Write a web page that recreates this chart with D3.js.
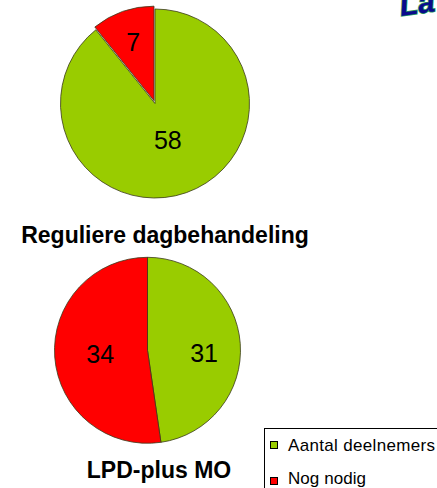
<!DOCTYPE html>
<html>
<head>
<meta charset="utf-8">
<script src="https://cdn.jsdelivr.net/npm/d3@7"></script>
<style>
  html, body { margin: 0; padding: 0; background: #fff; }
  svg { display: block; }
</style>
</head>
<body>
<svg id="chart" width="437" height="488"></svg>
<script>
// ---- data ----
const categories = ["Aantal deelnemers", "Nog nodig"];
const pieTitles = ["Reguliere dagbehandeling", "LPD-plus MO"];
const regulierValues = [58, 7];
const lpdValues = [31, 34];
const colors = ["#99CC00", "#FF0000"];

const svg = d3.select("#chart");
const font = "'Liberation Sans', Arial, sans-serif";

// decorative WordArt fragment at top-right (cut off by the top edge as in the original)
svg.append("text")
  .attr("transform", "translate(401,16) rotate(-8)")
  .attr("font-family", font)
  .attr("font-weight", "bold")
  .attr("font-style", "italic")
  .attr("font-size", 30)
  .attr("fill", "#0a0a8c")
  .attr("stroke", "#2e9e5a")
  .attr("stroke-width", 1.5)
  .attr("paint-order", "stroke")
  .text("La");

const pies = [
  { values: regulierValues, cx: 155, cy: 103.5, r: 94.5, labelR: [0.41, 0.66], labelDy: [0, 0], explode: [0, 3],
    title: pieTitles[0], tx: 165, ty: 243 },
  { values: lpdValues, cx: 147.5, cy: 350.3, r: 93, labelR: [0.61, 0.51], labelDy: [7, 0], explode: [0, 0],
    title: pieTitles[1], tx: 159, ty: 478 }
];

const pieGen = d3.pie().sort(null).value(d => d);

pies.forEach(p => {
  const g = svg.append("g").attr("transform", `translate(${p.cx},${p.cy})`);
  const arcs = pieGen(p.values);
  const arc = d3.arc().innerRadius(0).outerRadius(p.r);
  arcs.forEach((a, i) => {
    const mid = (a.startAngle + a.endAngle) / 2;
    const ex = Math.sin(mid) * p.explode[i], ey = -Math.cos(mid) * p.explode[i];
    g.append("path")
      .attr("d", arc(a))
      .attr("transform", `translate(${ex},${ey})`)
      .attr("fill", colors[i])
      .attr("stroke", "#3a3a1a")
      .attr("stroke-width", 0.8);
  });
  arcs.forEach((a, i) => {
    const lr = p.r * p.labelR[i];
    const la = d3.arc().innerRadius(lr).outerRadius(lr);
    const [x, y] = la.centroid(a);
    const mid = (a.startAngle + a.endAngle) / 2;
    g.append("text")
      .attr("x", x + Math.sin(mid) * p.explode[i])
      .attr("y", y - Math.cos(mid) * p.explode[i] + p.labelDy[i])
      .attr("text-anchor", "middle")
      .attr("dominant-baseline", "central")
      .attr("font-family", font)
      .attr("font-size", 25)
      .attr("fill", "#000")
      .text(a.data);
  });
  svg.append("text")
    .attr("x", p.tx).attr("y", p.ty)
    .attr("text-anchor", "middle")
    .attr("font-family", font)
    .attr("font-weight", "bold")
    .attr("font-size", 23)
    .attr("fill", "#000")
    .text(p.title);
});

// legend
const lg = svg.append("g").attr("transform", "translate(264,428)");
lg.append("rect")
  .attr("x", 0.5).attr("y", 0.5)
  .attr("width", 200).attr("height", 100)
  .attr("fill", "#fff").attr("stroke", "#000").attr("stroke-width", 1);
const legendWidths = [147, 78];
categories.forEach((c, i) => {
  const y = 13 + i * 36;
  lg.append("rect")
    .attr("x", 6.5).attr("y", y + 0.5)
    .attr("width", 7).attr("height", 7)
    .attr("fill", colors[i]).attr("stroke", "#000").attr("stroke-width", 1);
  lg.append("text")
    .attr("x", 24).attr("y", 23 + i * 33)
    .attr("font-family", font)
    .attr("font-size", 17)
    .attr("fill", "#000")
    .attr("textLength", legendWidths[i])
    .attr("lengthAdjust", "spacing")
    .text(c);
});
</script>
</body>
</html>
